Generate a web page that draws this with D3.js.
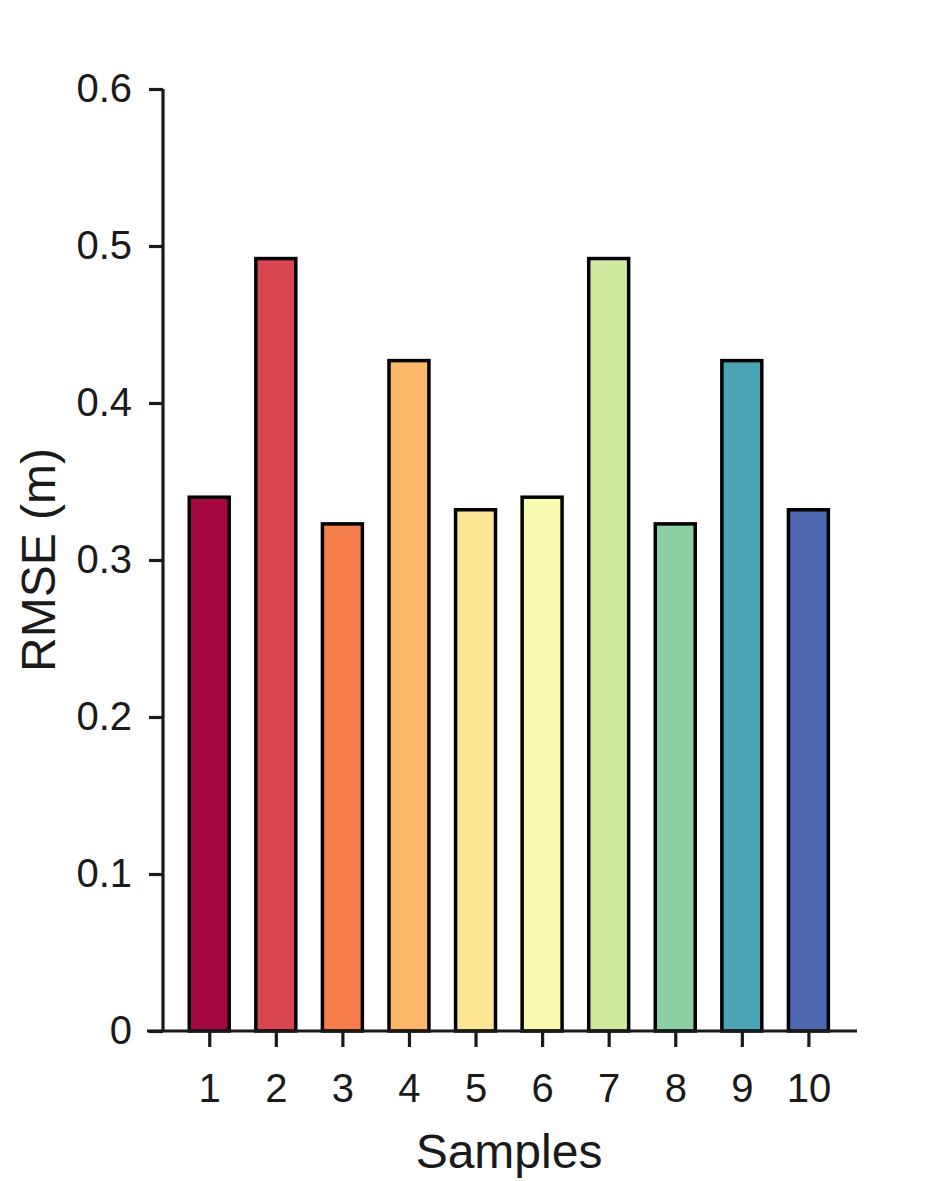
<!DOCTYPE html>
<html>
<head>
<meta charset="utf-8">
<script src="https://d3js.org/d3.v7.min.js"></script>
<style>
    body { margin: 0; background: white; }
    text { font-family: "Liberation Sans", Arial, sans-serif; fill: #1a1a1a; }
</style>
</head>
<body>
<svg id="chart" width="945" height="1181"></svg>
<script>
    'use strict';

    const samples = [1, 2, 3, 4, 5, 6, 7, 8, 9, 10];
    const rmse = [0.340, 0.492, 0.323, 0.427, 0.332, 0.340, 0.492, 0.323, 0.427, 0.332];
    const colors = ["#a50742", "#d9464f", "#f57d4b", "#fdb768", "#fee593",
                    "#f7fab0", "#d0eb9f", "#8ccfa3", "#4aa4b3", "#4c67b0"];
    const yTicks = [0, 0.1, 0.2, 0.3, 0.4, 0.5, 0.6];

    const svg = d3.select("#chart");
    const axisColor = "#1a1a1a";

    // x runs past the y spine a bit, like the original
    const x = d3.scaleLinear().domain([0.065, 10.73]).range([147, 857]);
    const y = d3.scaleLinear().domain([0, 0.6]).range([1031, 89]);
    const spineX = 163;
    const barW = x(1.6) - x(1);

    // bars
    svg.append("g")
        .selectAll("rect")
        .data(samples)
        .join("rect")
        .attr("x", (d) => x(d) - barW / 2)
        .attr("y", (d, i) => y(rmse[i]))
        .attr("width", barW)
        .attr("height", (d, i) => y(0) - y(rmse[i]))
        .attr("fill", (d, i) => colors[i])
        .attr("stroke", "#000")
        .attr("stroke-width", 3.5);

    // y axis
    const yAxis = svg.append("g")
        .attr("transform", `translate(${spineX},0)`)
        .call(d3.axisLeft(y).tickValues(yTicks).tickSize(14).tickPadding(17)
            .tickFormat(d => d === 0 ? "0" : d3.format(".1f")(d)));
    yAxis.select(".domain").attr("d", `M0,${y(0.6)}V${y(0)}`);

    // x axis
    const xAxis = svg.append("g")
        .attr("transform", `translate(0,${y(0)})`)
        .call(d3.axisBottom(x).tickValues(samples).tickSize(16).tickPadding(27)
            .tickFormat(d3.format("d")));
    xAxis.select(".domain").attr("d", `M${x.range()[0]},0H${x.range()[1]}`);

    svg.selectAll(".domain, .tick line")
        .attr("stroke", axisColor)
        .attr("stroke-width", 3.2);
    svg.selectAll(".tick text")
        .attr("fill", axisColor)
        .style("font-family", "'Liberation Sans', Arial, sans-serif")
        .style("font-size", "40px");

    // axis titles
    svg.append("text")
        .attr("x", 509)
        .attr("y", 1168)
        .attr("text-anchor", "middle")
        .style("font-size", "48px")
        .text("Samples");

    svg.append("text")
        .attr("transform", `translate(55,${(y(0) + y(0.6)) / 2}) rotate(-90)`)
        .attr("text-anchor", "middle")
        .style("font-size", "48px")
        .text("RMSE (m)");
</script>
</body>
</html>
